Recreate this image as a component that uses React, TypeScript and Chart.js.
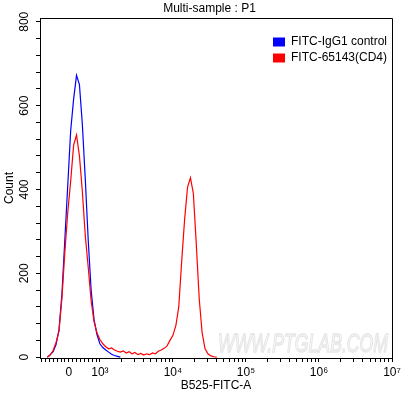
import React, { useEffect, useRef } from "react";
import { Chart, registerables } from "chart.js";

Chart.register(...registerables);

// Histogram bin centres, in display-axis units (3 = 10^3, 4 = 10^4, ...)
const binPositions = [
  2.28, 2.32, 2.36, 2.40, 2.44, 2.48, 2.52, 2.56, 2.60, 2.64,
  2.68, 2.72, 2.76, 2.80, 2.84, 2.88, 2.92, 2.96, 3.00, 3.04,
  3.08, 3.12, 3.16, 3.20, 3.24, 3.28, 3.32, 3.36, 3.40, 3.44,
  3.48, 3.52, 3.56, 3.60, 3.64, 3.68, 3.72, 3.76, 3.80, 3.84,
  3.88, 3.92, 3.96, 4.00, 4.04, 4.08, 4.12, 4.16, 4.20, 4.24,
  4.28, 4.32, 4.36, 4.40, 4.44, 4.48, 4.52, 4.56, 4.60,
];

const igg1Counts = [
  0, 6, 13, 30, 65, 150, 280, 410, 540, 615,
  672, 650, 555, 425, 280, 160, 90, 54, 32, 23,
  17, 12, 7, 4, 2, 0,
];

const cd4Counts = [
  0, 5, 16, 35, 62, 140, 250, 345, 420, 505,
  530, 480, 395, 290, 215, 135, 85, 58, 42, 32,
  25, 20, 22, 17, 14, 12, 15, 10, 13, 8,
  11, 6, 9, 5, 8, 6, 10, 8, 14, 17,
  21, 27, 40, 52, 75, 120, 228, 328, 405, 428,
  390, 270, 140, 58, 20, 8, 3, 1, 0,
];

const seriesLabels = ["FITC-IgG1 control", "FITC-65143(CD4)"];
const seriesColors = ["#0000ff", "#ff0000"];

const yTickValues = [
  0, 40, 80, 120, 160, 200, 240, 280, 320, 360, 400,
  440, 480, 520, 560, 600, 640, 680, 720, 760, 800,
];
const yLabelValues = [0, 200, 400, 600, 800];

const zeroPosition = 2.575;
const xMajorTicks = [zeroPosition, 3, 4, 5, 6, 7];
const xMajorLabels = ["0", "10³", "10⁴", "10⁵", "10⁶", "10⁷"];

const NARROW = "'Liberation Sans Narrow', 'Liberation Sans', Arial, sans-serif";
const SANS = "'Liberation Sans', Arial, sans-serif";

function buildXTicks(): number[] {
  const t: number[] = [...xMajorTicks];
  for (let k = -7; k <= 7; k++) if (k !== 0) t.push(zeroPosition + k * 0.0534);
  for (let d = 3; d < 7; d++) for (let m = 2; m <= 9; m++) t.push(d + Math.log10(m));
  return t.sort((a, b) => a - b);
}

const frameAndDecor = {
  id: "frameAndDecor",
  beforeDatasetsDraw(chart: any) {
    const { ctx, chartArea } = chart;
    ctx.save();
    ctx.font = `italic 26px ${SANS}`;
    const text = "WWW.PTGLAB.COM";
    const w = ctx.measureText(text).width;
    const sx = 170 / w;
    ctx.translate(chartArea.left + 178, chartArea.bottom - 6);
    ctx.scale(sx, 1);
    ctx.strokeStyle = "#e6e6e6";
    ctx.lineWidth = 1 / sx;
    ctx.strokeText(text, 0, 0);
    ctx.restore();
  },
  afterDraw(chart: any) {
    const { ctx, chartArea } = chart;
    ctx.save();
    ctx.strokeStyle = "#000";
    ctx.lineWidth = 1;
    ctx.beginPath();
    ctx.moveTo(chartArea.left, chartArea.top + 0.5);
    ctx.lineTo(chartArea.right + 0.5, chartArea.top + 0.5);
    ctx.lineTo(chartArea.right + 0.5, chartArea.bottom);
    ctx.stroke();

    // title
    ctx.fillStyle = "#000";
    ctx.font = `12px ${SANS}`;
    ctx.textAlign = "center";
    ctx.textBaseline = "middle";
    ctx.fillText("Multi-sample : P1", chart.width / 2 + 5, 9);

    // legend
    const bx = chartArea.right - 119;
    let by = chartArea.top + 24;
    ctx.textAlign = "left";
    chart.data.datasets.forEach((ds: any) => {
      ctx.fillStyle = ds.borderColor;
      ctx.fillRect(bx, by - 4.5, 12, 9);
      ctx.fillStyle = "#000";
      ctx.fillText(ds.label, bx + 18, by);
      by += 16;
    });
    ctx.restore();
  },
};

export default function App() {
  const ref = useRef<HTMLCanvasElement | null>(null);

  useEffect(() => {
    document.body.style.margin = "0";
    if (!ref.current) return;
    const xTicks = buildXTicks();
    const chart = new Chart(ref.current, {
      type: "line",
      data: {
        datasets: [
          {
            label: seriesLabels[0],
            data: igg1Counts.map((c, i) => ({ x: binPositions[i], y: c })),
            borderColor: seriesColors[0],
            backgroundColor: seriesColors[0],
            borderWidth: 1.2,
            pointRadius: 0,
            tension: 0,
            order: 1,
          },
          {
            label: seriesLabels[1],
            data: cd4Counts.map((c, i) => ({ x: binPositions[i], y: c })),
            borderColor: seriesColors[1],
            backgroundColor: seriesColors[1],
            borderWidth: 1.2,
            pointRadius: 0,
            tension: 0,
            order: 0,
          },
        ],
      },
      options: {
        animation: false,
        responsive: false,
        layout: { padding: { top: 18, right: 17, bottom: 0, left: 0 } },
        plugins: {
          legend: { display: false },
          title: { display: false },
          tooltip: { enabled: false },
        },
        scales: {
          x: {
            type: "linear",
            min: 2.18,
            max: 7,
            afterBuildTicks: (s: any) => {
              s.ticks = xTicks.map((v) => ({ value: v }));
            },
            afterFit: (s: any) => {
              s.height = 38;
              s.paddingLeft = 0;
              s.paddingRight = 0;
            },
            grid: {
              drawOnChartArea: false,
              tickLength: 4,
              tickColor: "#000",
              color: "#000",
            },
            border: { display: true, color: "#000", width: 1 },
            ticks: {
              autoSkip: false,
              maxRotation: 0,
              minRotation: 0,
              padding: 3,
              color: "#000",
              font: { family: NARROW, size: 12 },
              callback: (v: any) => {
                const idx = xMajorTicks.findIndex((m) => Math.abs(m - Number(v)) < 1e-6);
                return idx >= 0 ? xMajorLabels[idx] : "";
              },
            },
            title: {
              display: true,
              text: "B525-FITC-A",
              color: "#000",
              font: { family: SANS, size: 12 },
              padding: { top: 0, bottom: 3 },
            },
          },
          y: {
            type: "linear",
            min: -2,
            max: 809,
            afterBuildTicks: (s: any) => {
              s.ticks = yTickValues.map((v) => ({ value: v }));
            },
            afterFit: (s: any) => {
              s.width = 40;
              s.paddingTop = 0;
              s.paddingBottom = 0;
            },
            grid: {
              drawOnChartArea: false,
              tickLength: 4,
              tickColor: "#000",
              color: "#000",
            },
            border: { display: true, color: "#000", width: 1 },
            ticks: {
              autoSkip: false,
              minRotation: 90,
              maxRotation: 90,
              crossAlign: "center",
              padding: 1,
              color: "#000",
              font: { family: NARROW, size: 12 },
              callback: (v: any) => (yLabelValues.includes(Number(v)) ? String(v) : ""),
            },
            title: {
              display: true,
              text: "Count",
              color: "#000",
              font: { family: SANS, size: 12 },
              padding: { top: 2, bottom: 0 },
            },
          },
        },
      },
      plugins: [frameAndDecor],
    } as any);
    return () => chart.destroy();
  }, []);

  return (
    <div style={{ width: 409, height: 396, background: "#fff" }}>
      <canvas ref={ref} width={409} height={396} style={{ display: "block" }} />
    </div>
  );
}
